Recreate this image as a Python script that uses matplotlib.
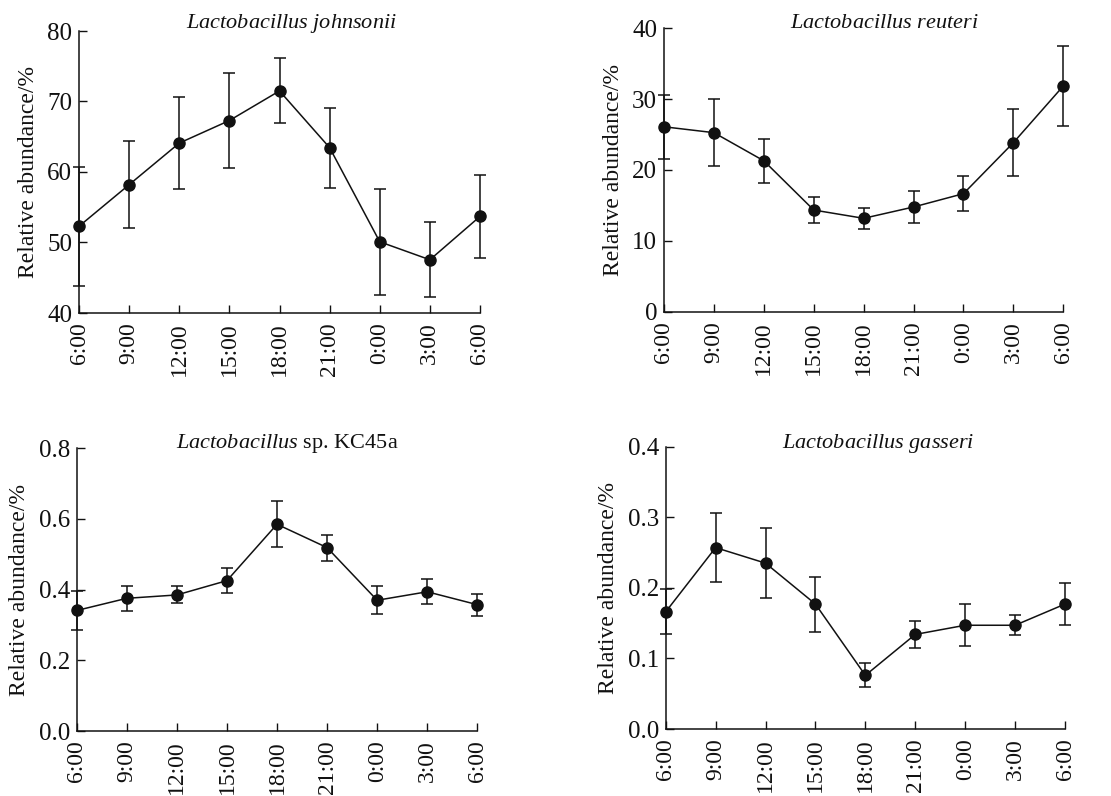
import matplotlib
matplotlib.use("Agg")
import matplotlib.pyplot as plt

plt.rcParams['font.family'] = ['Liberation Serif', 'DejaVu Serif']
plt.rcParams['mathtext.fontset'] = 'custom'
plt.rcParams['mathtext.it'] = 'Liberation Serif:italic'
plt.rcParams['mathtext.rm'] = 'Liberation Serif'

times = ["6:00", "9:00", "12:00", "15:00", "18:00", "21:00", "0:00", "3:00", "6:00"]

johnsonii = [52.3, 58.2, 64.1, 67.3, 71.5, 63.45, 50.1, 47.55, 53.7]
johnsonii_err = [8.4, 6.2, 6.5, 6.75, 4.6, 5.65, 7.55, 5.3, 5.93]

reuteri = [26.1, 25.27, 21.3, 14.35, 13.18, 14.78, 16.66, 23.86, 31.86]
reuteri_err = [4.5, 4.7, 3.1, 1.85, 1.5, 2.3, 2.45, 4.7, 5.6]

kc45a = [0.341, 0.3755, 0.385, 0.4255, 0.585, 0.519, 0.370, 0.394, 0.3575]
kc45a_err = [0.055, 0.035, 0.024, 0.035, 0.065, 0.037, 0.040, 0.035, 0.031]

gasseri = [0.166, 0.257, 0.235, 0.177, 0.076, 0.134, 0.147, 0.147, 0.177]
gasseri_err = [0.032, 0.0487, 0.050, 0.039, 0.017, 0.0187, 0.030, 0.014, 0.030]

W, H = 1111, 796
fig = plt.figure(figsize=(W / 100, H / 100), dpi=100)


def add_axes_px(left, right, top, bottom):
    return fig.add_axes([left / W, 1 - bottom / H, (right - left) / W, (bottom - top) / H])


panels = [
    dict(box=(79, 480, 31, 313), y=johnsonii, e=johnsonii_err, ylim=(40, 80),
         yticks=[40, 50, 60, 70, 80], fmt="{:.0f}",
         title="$\\mathit{Lactobacillus\\ johnsonii}$", tx=0.529, ty=1.01),
    dict(box=(664, 1063.3, 28.3, 311.7), y=reuteri, e=reuteri_err, ylim=(0, 40),
         yticks=[0, 10, 20, 30, 40], fmt="{:.0f}",
         title="$\\mathit{Lactobacillus\\ reuteri}$", tx=0.551, ty=1.0),
    dict(box=(76.7, 477.3, 448.3, 731), y=kc45a, e=kc45a_err, ylim=(0, 0.8),
         yticks=[0.0, 0.2, 0.4, 0.6, 0.8], fmt="{:.1f}",
         title="$\\mathit{Lactobacillus}$ sp. KC45a", tx=0.526, ty=1.0),
    dict(box=(665.7, 1065, 446.7, 729), y=gasseri, e=gasseri_err, ylim=(0, 0.4),
         yticks=[0.0, 0.1, 0.2, 0.3, 0.4], fmt="{:.1f}",
         title="$\\mathit{Lactobacillus\\ gasseri}$", tx=0.532, ty=0.995),
]

x = list(range(len(times)))

for p in panels:
    ax = add_axes_px(*p["box"])
    ax.errorbar(x, p["y"], yerr=p["e"], color="#111111", linewidth=1.1,
                elinewidth=1.1, capsize=4.5, capthick=1.1, marker="o",
                markersize=8, clip_on=False, zorder=3)
    ax.set_xlim(0, len(times) - 1)
    ax.set_ylim(*p["ylim"])
    ax.set_xticks(x)
    ax.set_xticklabels(times, rotation=90, fontsize=17)
    ax.set_yticks(p["yticks"])
    ax.set_yticklabels([p["fmt"].format(v) for v in p["yticks"]], fontsize=18)
    ax.tick_params(direction="in", length=6, width=1, colors="#111111")
    ax.tick_params(axis="x", pad=7)
    ax.tick_params(axis="y", pad=5)
    ax.spines["top"].set_visible(False)
    ax.spines["right"].set_visible(False)
    for s in ("left", "bottom"):
        ax.spines[s].set_linewidth(1.1)
        ax.spines[s].set_color("#111111")
    ax.set_ylabel("Relative abundance/%", fontsize=17, color="#111111", labelpad=6)
    ax.text(p["tx"], p["ty"], p["title"], transform=ax.transAxes, ha="center",
            va="baseline", fontsize=16, color="#111111")

fig.savefig("out.png", dpi=100)
